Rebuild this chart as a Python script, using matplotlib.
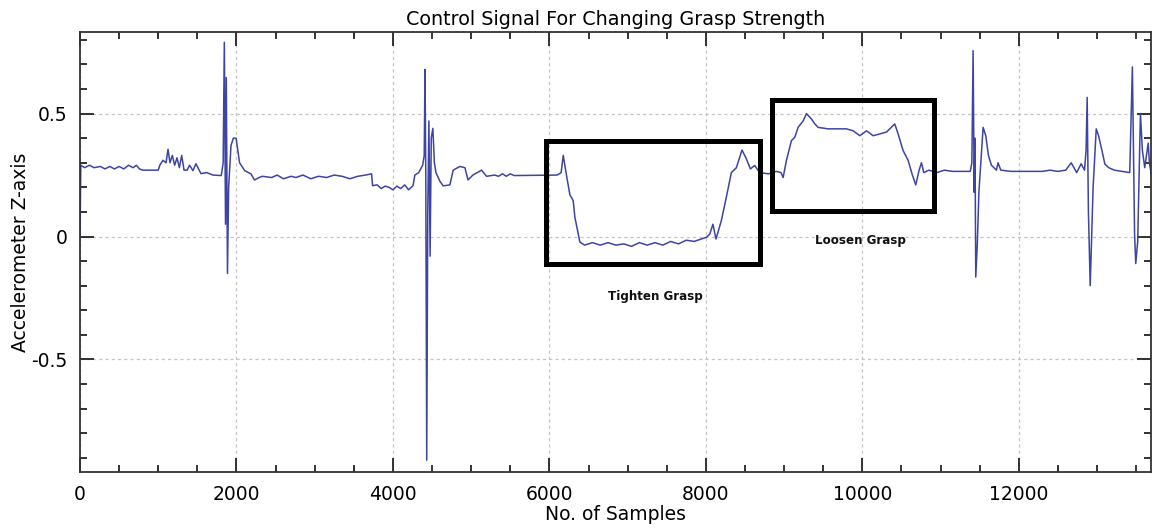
import matplotlib
matplotlib.use("Agg")
import matplotlib.pyplot as plt
from matplotlib.patches import Rectangle
from matplotlib.ticker import MultipleLocator, FixedLocator

# ---------------- data ----------------
samples = [
    0, 10, 60, 120, 180, 260, 320, 380, 440, 500, 560, 620, 680, 720, 760, 800, 1000,
    1020, 1060, 1100, 1125, 1150, 1180, 1210, 1240, 1270, 1300, 1330, 1370, 1400,
    1444, 1482, 1546, 1620, 1700, 1806,
    1830, 1845, 1860, 1870, 1885, 1900, 1930, 1960, 1995, 2040, 2105, 2185, 2230,
    2290, 2330, 2450, 2520, 2600, 2700, 2760, 2850, 2950, 3050, 3150, 3250, 3350,
    3450, 3550, 3650, 3727,
    3740, 3800, 3850, 3900, 3950, 4000, 4050, 4100, 4150, 4200, 4257,
    4280, 4330, 4380, 4400, 4410, 4420, 4432, 4445, 4460, 4475, 4490, 4510, 4530,
    4550, 4600, 4643, 4728, 4770, 4856, 4920, 4960, 5022, 5133, 5197,
    5300, 5350, 5400, 5450, 5500, 5550, 6100,
    6150, 6177, 6219, 6262, 6304, 6326, 6368, 6390, 6450, 6550, 6650, 6750, 6850,
    6950, 7050, 7150, 7250, 7350, 7450, 7550, 7650, 7750, 7850, 8008,
    8050, 8090, 8130, 8198, 8262, 8326, 8390, 8462, 8518, 8569, 8624, 8688,
    8800, 8900, 8960, 8988, 9030, 9094, 9137, 9179, 9243, 9286, 9350, 9393, 9435,
    9563, 9797, 9883, 9968, 10053, 10138, 10309, 10415, 10457, 10521, 10585, 10640,
    10683, 10726, 10756, 10786,
    10850, 10950, 11050, 11150, 11250, 11380, 11400, 11416, 11430, 11440, 11450,
    11470, 11490, 11544, 11578, 11612, 11650, 11714, 11735, 11770,
    11900, 12100, 12300, 12400, 12500, 12600, 12670, 12740, 12797, 12840,
    12860, 12874, 12890, 12913, 12950, 12990, 13020, 13070, 13100, 13150, 13220,
    13418, 13452, 13480, 13495, 13520, 13555, 13580, 13610, 13654, 13670, 13700,
]
accel_z = [
    0.00, 0.29, 0.28, 0.29, 0.28, 0.285, 0.275, 0.285, 0.275, 0.285, 0.275, 0.29, 0.28, 0.29, 0.275, 0.27, 0.27,
    0.29, 0.31, 0.30, 0.355, 0.30, 0.33, 0.29, 0.32, 0.28, 0.33, 0.27, 0.27, 0.29,
    0.268, 0.296, 0.256, 0.26, 0.25, 0.248,
    0.30, 0.79, 0.05, 0.647, -0.15, 0.20, 0.37, 0.40, 0.40, 0.30, 0.268, 0.255, 0.23,
    0.24, 0.245, 0.24, 0.25, 0.235, 0.245, 0.24, 0.25, 0.235, 0.245, 0.24, 0.25, 0.245,
    0.235, 0.245, 0.25, 0.255,
    0.207, 0.21, 0.195, 0.205, 0.20, 0.19, 0.205, 0.195, 0.21, 0.19, 0.207,
    0.25, 0.26, 0.29, 0.33, 0.68, 0.25, -0.91, 0.10, 0.47, -0.08, 0.40, 0.44, 0.30,
    0.26, 0.225, 0.206, 0.21, 0.27, 0.285, 0.28, 0.23, 0.25, 0.27, 0.245,
    0.25, 0.245, 0.255, 0.245, 0.255, 0.248, 0.25,
    0.26, 0.33, 0.248, 0.17, 0.146, 0.078, 0.011, -0.023, -0.035, -0.025, -0.035, -0.025, -0.035,
    -0.03, -0.04, -0.025, -0.035, -0.025, -0.035, -0.02, -0.03, -0.015, -0.02, -0.003,
    0.01, 0.05, -0.01, 0.065, 0.16, 0.26, 0.28, 0.352, 0.316, 0.275, 0.289, 0.26,
    0.255, 0.265, 0.26, 0.24, 0.31, 0.39, 0.404, 0.444, 0.47, 0.50, 0.478, 0.458, 0.444,
    0.438, 0.438, 0.43, 0.41, 0.43, 0.41, 0.425, 0.458, 0.418, 0.35, 0.31, 0.25,
    0.21, 0.27, 0.30, 0.26,
    0.27, 0.26, 0.27, 0.265, 0.265, 0.265, 0.30, 0.756, 0.18, 0.40, -0.165,
    -0.03, 0.18, 0.444, 0.41, 0.33, 0.29, 0.27, 0.30, 0.27,
    0.265, 0.265, 0.265, 0.27, 0.265, 0.27, 0.30, 0.26, 0.296, 0.27,
    0.35, 0.566, 0.10, -0.20, 0.20, 0.438, 0.41, 0.34, 0.295, 0.28, 0.27,
    0.26, 0.69, 0.012, -0.11, -0.02, 0.50, 0.35, 0.28, 0.38, 0.30, 0.24,
]

x_major = [0, 2000, 4000, 6000, 8000, 10000, 12000]
y_major = [-0.5, 0, 0.5]
y_labels = ["-0.5", "0", "0.5"]

# annotation boxes: (x0, y0, x1, y1) in data units, and labels
box_tighten = (5960, -0.110, 8695, 0.387)
box_loosen = (8845, 0.102, 10910, 0.557)
label_tighten = ("Tighten Grasp", 7350, -0.245)
label_loosen = ("Loosen Grasp", 9970, -0.015)

title = "Control Signal For Changing Grasp Strength"
xlabel = "No. of Samples"
ylabel = "Accelerometer Z-axis"

# ---------------- figure ----------------
fig = plt.figure(figsize=(11.52, 5.32), dpi=100)
ax = fig.add_axes([80 / 1152, 60 / 532, 1071 / 1152, 440 / 532])

ax.plot(samples, accel_z, color="#3d44a4", linewidth=1.1)

ax.set_xlim(0, 13690)
ax.set_ylim(-0.958, 0.832)

ax.xaxis.set_major_locator(FixedLocator(x_major))
ax.xaxis.set_minor_locator(MultipleLocator(500))
ax.yaxis.set_major_locator(FixedLocator(y_major))
ax.set_yticklabels(y_labels)
ax.yaxis.set_minor_locator(MultipleLocator(0.1))

ax.tick_params(which="both", direction="in", top=True, right=True, width=1.3,
               colors="#222222", labelsize=13.5, labelcolor="black")
ax.tick_params(which="major", length=10, pad=9)
ax.tick_params(which="minor", length=5)

ax.grid(True, which="major", linestyle=(0, (2.5, 2.5)), color="#c4c4c4", linewidth=0.9)

for s in ax.spines.values():
    s.set_linewidth(1.3)
    s.set_color("#333333")

for (x0, y0, x1, y1) in (box_tighten, box_loosen):
    ax.add_patch(Rectangle((x0, y0), x1 - x0, y1 - y0, fill=False,
                           edgecolor="black", linewidth=3.6, zorder=5))

for (txt, tx, ty) in (label_tighten, label_loosen):
    ax.text(tx, ty, txt, ha="center", va="center", fontsize=8.6,
            fontweight="bold", color="#111111")

ax.set_title(title, fontsize=13.8, pad=5)
ax.set_xlabel(xlabel, fontsize=13.5, labelpad=1)
ax.set_ylabel(ylabel, fontsize=13.5, labelpad=1)

fig.savefig("out.png", dpi=100)
